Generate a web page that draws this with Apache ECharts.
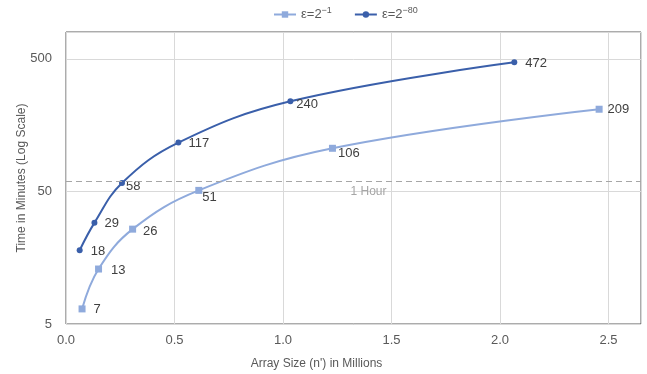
<!DOCTYPE html>
<html>
<head>
<meta charset="utf-8">
<script src="https://cdn.jsdelivr.net/npm/echarts@6/dist/echarts.min.js"></script>
<style>html,body{margin:0;padding:0;background:#fff}#c{width:647px;height:374px}</style>
</head>
<body>
<div id="c"></div>
<script>
// ---- data ----
var seriesNames = ['ε=2^-1', 'ε=2^-80'];
var xLight = [0.074, 0.150, 0.307, 0.612, 1.228, 2.457];
var yLight = [6.5, 13, 26, 51, 106, 209];
var xDark = [0.063, 0.131, 0.258, 0.518, 1.034, 2.066];
var yDark = [18, 29, 58, 117, 240, 472];
var hourValue = 60;
var hourLabel = '1 Hour';
var xTickLabels = ['0.0', '0.5', '1.0', '1.5', '2.0', '2.5'];
var yTickLabels = ['5', '50', '500'];

// ---- label placement (styling) ----
var lightLabelStyle = [[8, 1], [9, 1], [7, 2], [0, 7], [2, 5], [5, 0]];
var darkLabelStyle = [[8, 1], [7, 1], [1, 3], [7, 1], [3, 3], [8, 1]];

function build(xs, ys, styles) {
  return xs.map(function (x, i) {
    return {
      value: [x, ys[i]],
      label: { distance: styles[i][0], offset: [0, styles[i][1]] }
    };
  });
}

var FONT = 'Liberation Sans';
var chart = echarts.init(document.getElementById('c'), null, { renderer: 'canvas' });
chart.setOption({
  animation: false,
  backgroundColor: '#ffffff',
  textStyle: { fontFamily: FONT },
  legend: {
    top: 1,
    left: 268,
    itemWidth: 22,
    itemHeight: 8,
    itemGap: 22,
    formatter: function (name) {
      var parts = name.split('^');
      return '{b|' + parts[0] + '}{s|' + parts[1].replace('-', '−') + '}';
    },
    textStyle: {
      fontFamily: FONT, fontSize: 13, color: '#595959',
      rich: {
        b: { fontFamily: FONT, fontSize: 13, color: '#595959' },
        s: { fontFamily: FONT, fontSize: 9, color: '#595959', padding: [0, 0, 8, 0] }
      }
    },
    data: seriesNames
  },
  grid: {
    left: 66, right: 6, top: 32, bottom: 50,
    show: true, borderColor: '#595959', borderWidth: 1,
    containLabel: false,
    outerBoundsMode: 'none'
  },
  xAxis: {
    type: 'value',
    min: 0, max: 2.65, interval: 0.5,
    name: "Array Size (n') in Millions",
    nameLocation: 'middle',
    nameGap: 34,
    nameMoveOverlap: false,
    nameTextStyle: { fontFamily: FONT, fontSize: 12, color: '#595959', padding: [0, 74, 0, 0] },
    axisLine: { show: false },
    axisTick: { show: false },
    axisLabel: {
      fontFamily: FONT, fontSize: 13, color: '#595959', margin: 10,
      showMaxLabel: false,
      formatter: function (v) {
        var i = Math.round(v / 0.5);
        return xTickLabels[i] !== undefined ? xTickLabels[i] : '';
      }
    },
    splitLine: { show: true, lineStyle: { color: '#d9d9d9', width: 1 } }
  },
  yAxis: {
    type: 'log', logBase: 10,
    min: 5, max: 800, interval: 1,
    name: 'Time in Minutes (Log Scale)',
    nameLocation: 'middle',
    nameGap: 38,
    nameMoveOverlap: false,
    nameTextStyle: { fontFamily: FONT, fontSize: 12, color: '#595959' },
    axisLine: { show: false },
    axisTick: { show: false },
    axisLabel: {
      fontFamily: FONT, fontSize: 13, color: '#595959', margin: 14,
      showMaxLabel: true,
      formatter: function (v) {
        var r = String(Number(Number(v).toPrecision(1)));
        return yTickLabels.indexOf(r) >= 0 ? r : '';
      }
    },
    splitLine: { show: true, lineStyle: { color: '#d9d9d9', width: 1 } },
    minorSplitLine: { show: false }
  },
  series: [
    {
      name: seriesNames[0],
      type: 'line',
      smooth: 0.4,
      symbol: 'rect',
      symbolSize: 7,
      color: '#8FAADC',
      lineStyle: { color: '#8FAADC', width: 2 },
      itemStyle: { color: '#8FAADC' },
      label: {
        show: true, position: 'right',
        fontFamily: FONT, fontSize: 13, color: '#404040',
        formatter: function (p) { return String(Math.round(p.value[1])); }
      },
      data: build(xLight, yLight, lightLabelStyle),
      markLine: {
        silent: true,
        symbol: ['none', 'none'],
        lineStyle: { color: '#a6a6a6', type: [6, 4], width: 1.2 },
        label: {
          show: true, position: 'insideMiddleBottom',
          formatter: hourLabel,
          fontFamily: FONT, fontSize: 12, color: '#a6a6a6',
          offset: [15, 0]
        },
        data: [{ yAxis: hourValue }]
      },
      z: 3
    },
    {
      name: seriesNames[1],
      type: 'line',
      smooth: 0.4,
      symbol: 'circle',
      symbolSize: 6,
      color: '#3A5FAA',
      lineStyle: { color: '#3A5FAA', width: 2 },
      itemStyle: { color: '#3A5FAA' },
      label: {
        show: true, position: 'right',
        fontFamily: FONT, fontSize: 13, color: '#404040',
        formatter: function (p) { return String(Math.round(p.value[1])); }
      },
      data: build(xDark, yDark, darkLabelStyle),
      z: 4
    }
  ]
});
</script>
</body>
</html>
